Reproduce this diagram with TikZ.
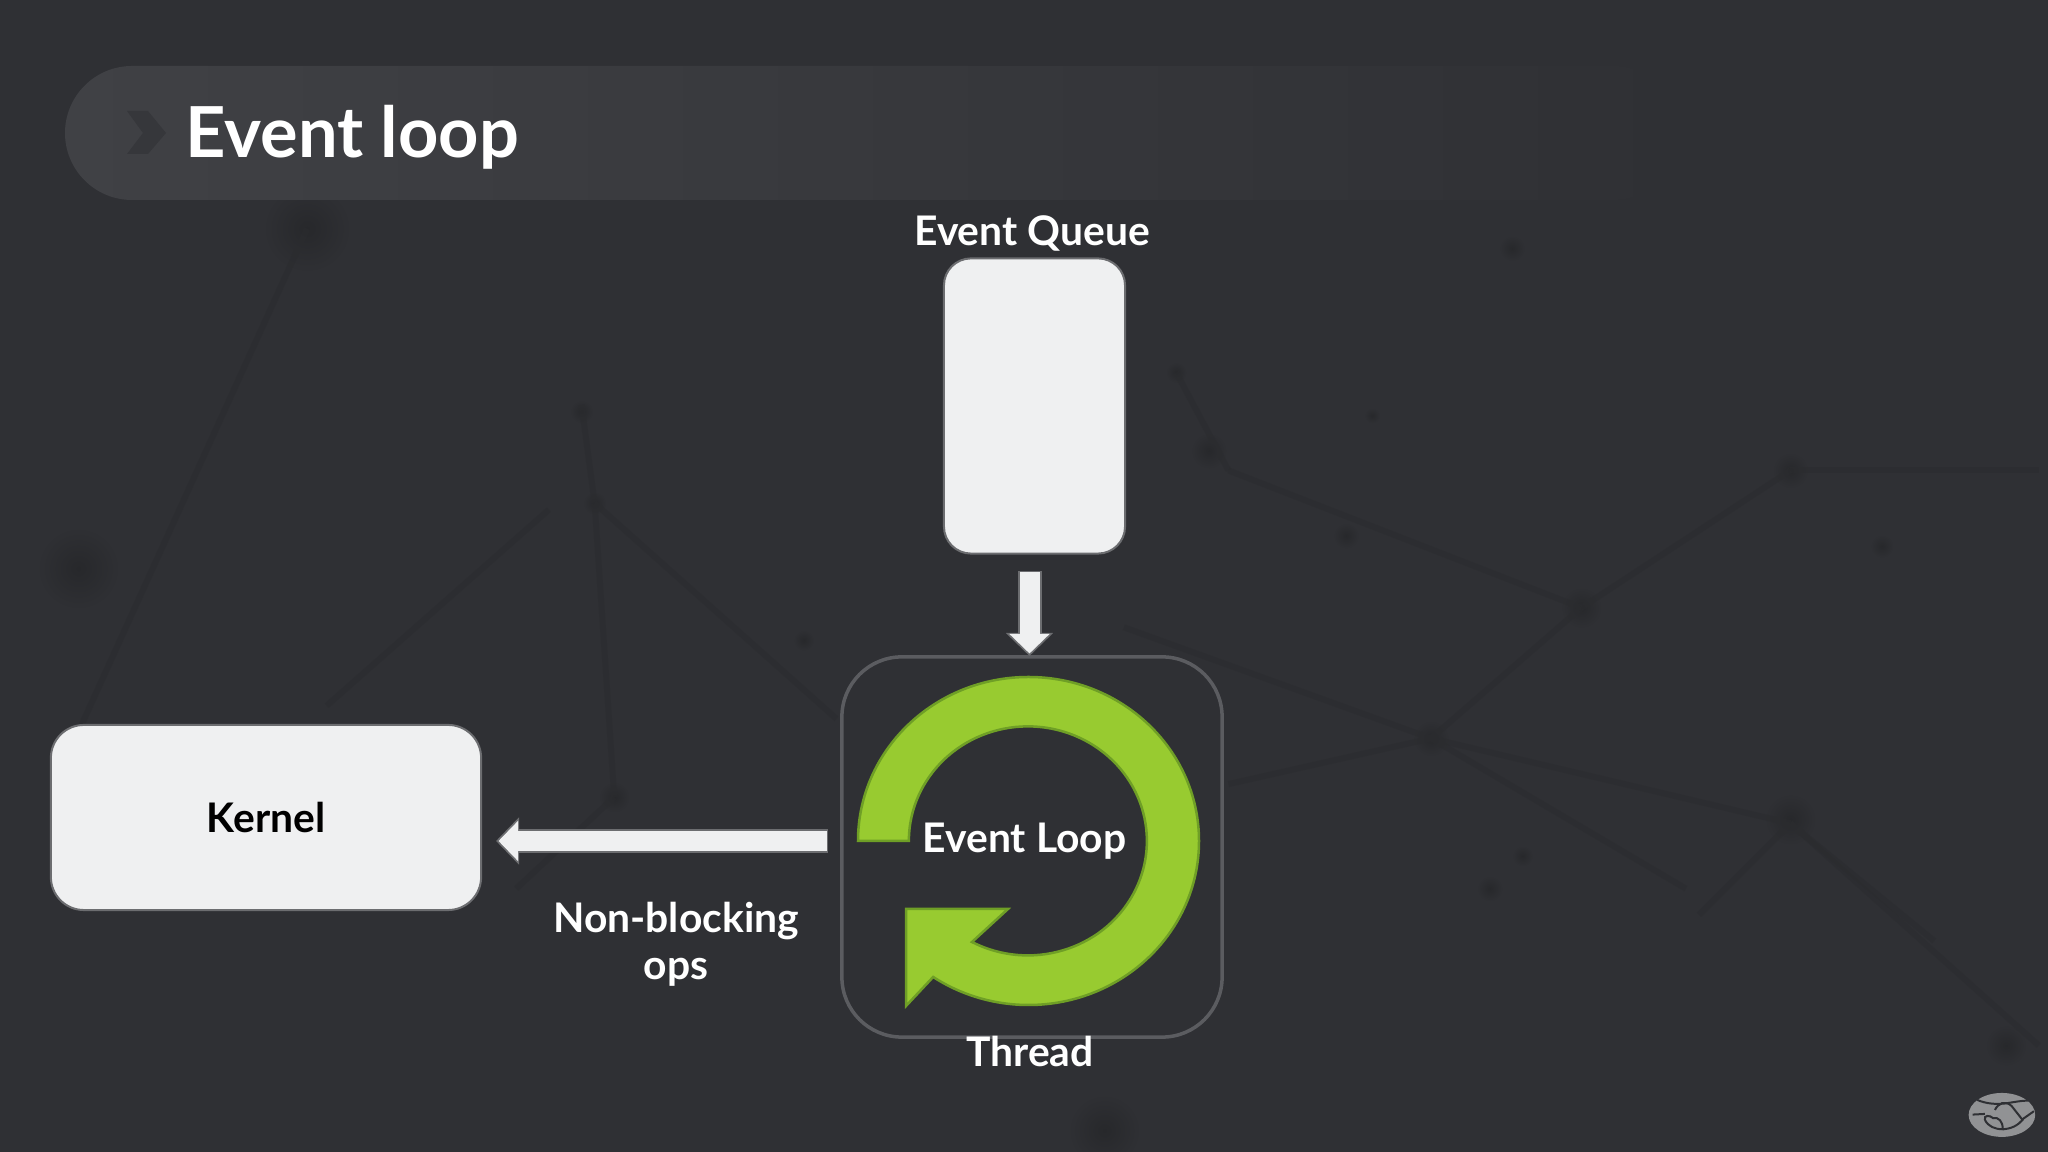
\documentclass[tikz,border=0pt]{standalone}
\usepackage{fontspec}
\setmainfont{Lato}
\usetikzlibrary{arrows.meta}
\definecolor{bgcol}{HTML}{2F3034}
\definecolor{bgdark}{HTML}{27282B}
\definecolor{bgline}{HTML}{2B2C2F}
\definecolor{barcol}{HTML}{404145}
\definecolor{chevcol}{HTML}{36373B}
\definecolor{boxcol}{HTML}{EFF0F1}
\definecolor{edgecol}{HTML}{6C6D70}
\definecolor{threadcol}{HTML}{5B5C60}
\definecolor{loopcol}{HTML}{98CB30}
\definecolor{loopedge}{HTML}{6F9F26}
\definecolor{logocol}{HTML}{919294}
\tikzset{
  lightbox/.style={draw=edgecol, fill=boxcol, line width=0.2mm, text=black},
  whitelabel/.style={text=white, font=\bfseries\fontsize{11.6}{13.4}\selectfont, align=center, inner sep=0pt},
  blockedge/.style={draw=edgecol, line width=2.4mm, -{Triangle[length=2.3mm,width=4.6mm]}},
  blockfill/.style={draw=boxcol, line width=2.0mm, -{Triangle[length=1.95mm,width=3.9mm]}, shorten >=0.25mm, shorten <=0.15mm},
}
\begin{document}
\begin{tikzpicture}[x=0.01cm,y=0.01cm]
\useasboundingbox (0,0) rectangle (2048,1152);
\fill[bgcol] (0,0) rectangle (2048,1152);
% background network
\begin{scope}[shift={(0,1152)},x=0.01306cm,y=-0.01306cm]
\foreach \bx/\by/\br in {235/175/34,60/435/32,983/68/12,1157/190/10,1370/360/14,1210/465/16,1095/565/14,1370/627/20,845/865/28,1535/800/16,925/345/14,1030/410/10,445/315/9,455/385/9,470/610/12,615/490/8,1140/680/10,1165/655/8,1440/418/9,1050/318/6,900/285/8}
  \shade[inner color=bgdark, outer color=bgcol] (\bx,\by) circle (\br);
\foreach \ax/\ay/\cx/\cy in {235/175/60/560,445/310/455/385,455/385/470/610,455/385/640/550,420/390/250/540,900/285/940/360,940/360/1210/465,860/480/1095/565,1095/565/1370/630,1370/630/1560/800,1370/360/1210/465,1210/465/1095/565,1370/360/1560/360,940/600/1095/565,1370/630/1300/700,1370/630/1480/720,1095/565/1290/680,470/610/395/680}
  \draw[bgline, line width=0.06cm, opacity=0.6] (\ax,\ay) -- (\cx,\cy);
\end{scope}
% title bar
\shade[left color=barcol, middle color=barcol, right color=bgcol, rounded corners=0.67cm] (1680,952) -- (65,952) -- (65,1086) -- (1680,1086) -- cycle;
\fill[chevcol] (127,1041) -- (148,1041) -- (166,1019) -- (148,998) -- (127,998) -- (143,1019) -- cycle;
\node[anchor=base west, text=white, inner sep=0pt, font=\bfseries\fontsize{20}{24}\selectfont] (title) at (185,994.5) {Event loop};
% queue
\node[whitelabel] (queuelabel) at (1032,919) {Event Queue};
\node[lightbox, minimum width=1.81cm, minimum height=2.95cm, rounded corners=0.27cm] (queue) at (1034.5,746) {};
% thread
\node[draw=threadcol, line width=0.035cm, minimum width=3.8cm, minimum height=3.8cm, rounded corners=0.6cm] (threadbox) at (1032,305) {};
\node[whitelabel] (threadlabel) at (1030,100) {Thread};
% loop arrow
\filldraw[fill=loopcol, draw=loopedge, line width=0.025cm] (858,311)
  arc[start angle=180, end angle=-124, x radius=170.5, y radius=164]
  -- (906,146) -- (906,243) -- (1008,243) -- (972,210)
  arc[start angle=-118, end angle=180, x radius=119, y radius=114.5] -- cycle;
\node[whitelabel] (looplabel) at (1024.5,310.5) {Event Loop};
% kernel
\node[lightbox, minimum width=4.3cm, minimum height=1.85cm, rounded corners=0.33cm, font=\bfseries\fontsize{11.6}{13}\selectfont] (kernel) at (266,334.5) {\raisebox{-0.4pt}{Kernel}};
\node[whitelabel] (opslabel) at (676,207.5) {Non-blocking\\ops};
% arrows
\coordinate (queuetail) at (1029.5,581);
\coordinate (queuetip) at (1029.5,496);
\coordinate (kerneltail) at (828,311);
\coordinate (kerneltip) at (496,311);
\draw[blockedge] (queuetail) -- (queuetip);
\draw[blockfill] (queuetail) -- (queuetip);
\draw[blockedge] (kerneltail) -- (kerneltip);
\draw[blockfill] (kerneltail) -- (kerneltip);
% logo
\begin{scope}[shift={(1940,82)},x=0.00333cm,y=-0.00333cm]
\fill[logocol] (186,135) ellipse (100 and 66);
\draw[bgcol, line width=0.02cm] (112,90) .. controls (140,102) and (170,104) .. (200,100) .. controls (225,96) and (245,92) .. (264,92);
\draw[bgcol, line width=0.02cm] (98,134) -- (135,132) (245,150) -- (282,124);
\draw[bgcol, line width=0.02cm] (165,120) .. controls (175,100) and (195,90) .. (215,108) -- (248,150) .. controls (235,165) and (215,178) .. (185,178);
\draw[bgcol, line width=0.02cm] (135,150) .. controls (130,135) and (150,135) .. (160,145) .. controls (175,140) and (190,155) .. (188,178) .. controls (165,178) and (145,170) .. (135,150);
\end{scope}
\end{tikzpicture}
\end{document}
